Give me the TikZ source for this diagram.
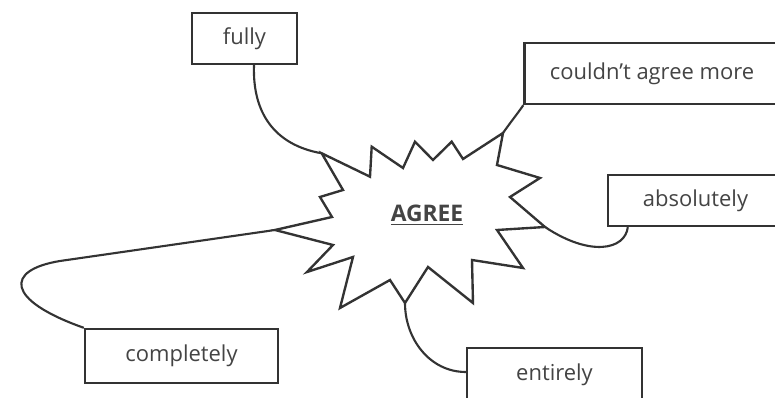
\documentclass[tikz,border=0pt]{standalone}
\usepackage{fontspec}
\setmainfont{Open Sans}
\usetikzlibrary{arrows}
\definecolor{ink}{HTML}{333333}
\definecolor{txt}{HTML}{444444}
\begin{document}
\begin{tikzpicture}[x=0.02cm,y=-0.02cm,line width=1.35pt,draw=ink,
  word/.style={draw=ink,fill=white,text=txt,font=\fontsize{12.5}{15}\selectfont,inner sep=0pt},
  link/.style={draw=ink,line width=1.2pt}]
\useasboundingbox (0,0) rectangle (775,398);
\node[word,minimum width=2.1cm,minimum height=1.02cm] (fully) at (244.5,38.5) {fully};
\node[word,minimum width=5.1cm,minimum height=1.22cm] (more) at (652,73.5) {couldn't agree more};
\node[word,minimum width=3.5cm,minimum height=1.02cm] (abs) at (695.5,200.5) {absolutely};
\node[word,minimum width=3.86cm,minimum height=1.08cm] (compl) at (181.5,356) {completely};
\node[word,minimum width=3.5cm,minimum height=1.08cm] (ent) at (554.5,375) {entirely};
\draw[line join=miter] (321.7,153.3) coordinate (s-fully) -- (370,176.7) -- (371.7,146.7) -- (403,168)
  -- (415,141.7) -- (433,160) -- (451.7,141.7) -- (463,159) -- (503,133) coordinate (s-more)
  -- (497,165) -- (540,178) -- (510,197) -- (545,227) coordinate (s-abs) -- (497,230)
  -- (523,268) -- (472,260) -- (473,303) -- (428,267) -- (405,303) coordinate (s-ent)
  -- (390,280) -- (340,308) -- (353,257) -- (307,272) -- (333,245) -- (275,230) coordinate (s-compl)
  -- (332,217) -- (320,197) -- (343,190) -- cycle;
\node[text=txt,font=\fontsize{13}{15}\selectfont\bfseries] (agree) at (427,215) {\underline{AGREE}};
\path[link]
([xshift=0.19cm]fully.south) edge[out=-92,in=170,looseness=1.1] (s-fully)
(more.south west) edge[out=-125,in=55] (s-more)
(s-abs) .. controls (590,257) and (625,250) .. ([xshift=0.42cm]abs.south west)
(s-ent) edge[out=-90,in=180] ([yshift=0.06cm]ent.west)
(s-compl) -- (60,261) .. controls (5,270) and (5,300) .. (compl.north west);
\end{tikzpicture}
\end{document}
